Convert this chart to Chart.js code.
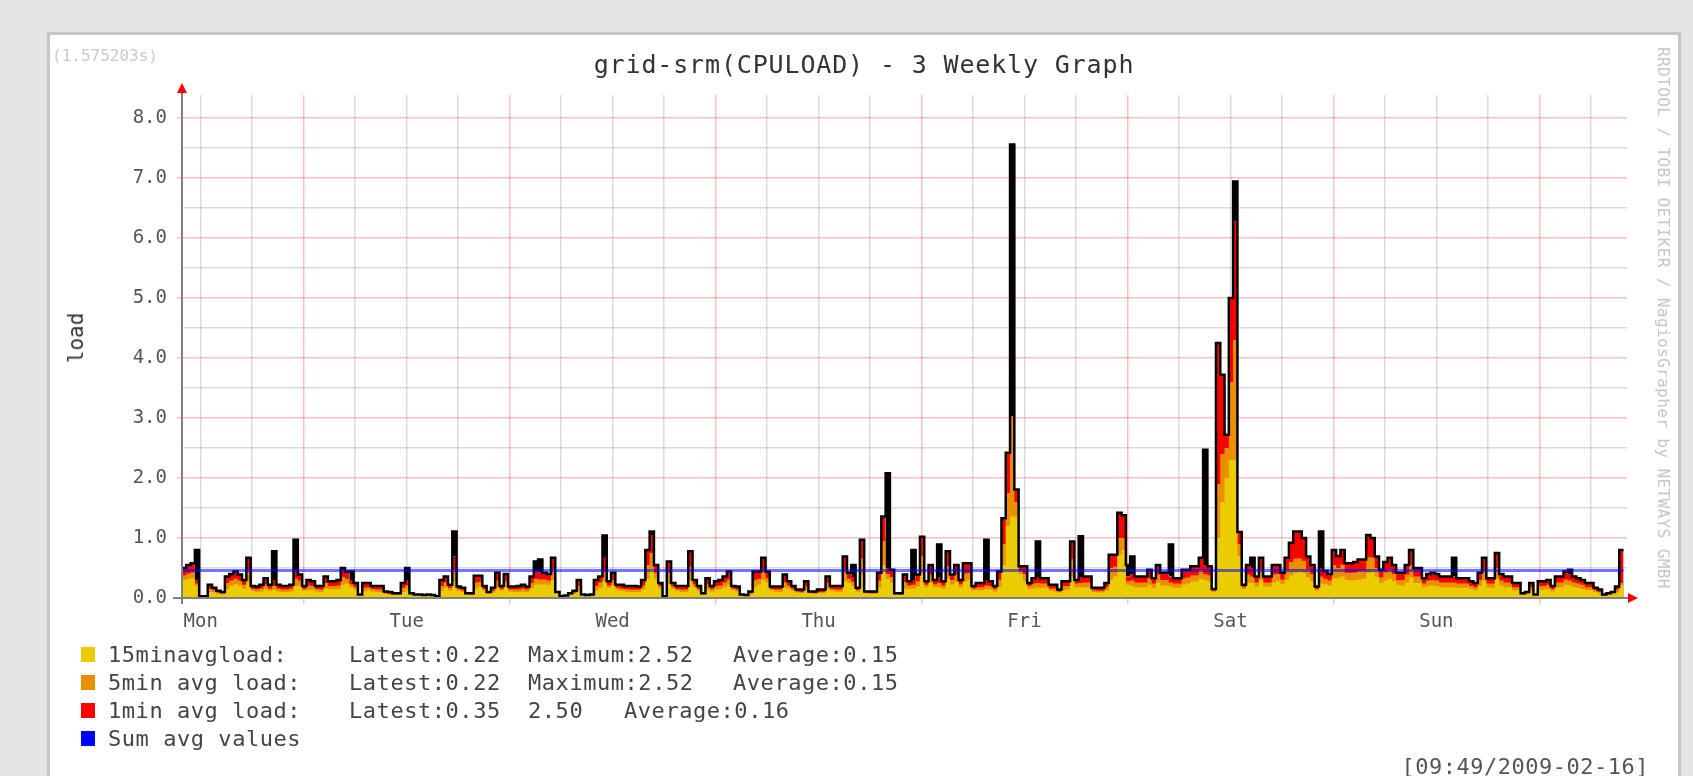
<!DOCTYPE html>
<html>
<head>
<meta charset="utf-8">
<title>grid-srm(CPULOAD) - 3 Weekly Graph</title>
<script src="https://cdn.jsdelivr.net/npm/chart.js@4.4.1/dist/chart.umd.min.js"></script>
<style>
    html, body {
        margin: 0;
        padding: 0;
        width: 1693px;
        height: 776px;
        overflow: hidden;
        background: #e4e4e4;
        font-family: 'DejaVu Sans Mono', monospace;
    }
    #panel {
        position: absolute;
        left: 47px;
        top: 32px;
        width: 1634px;
        height: 800px;
        box-sizing: border-box;
        background: #fff;
        border: 3px solid #c6c6c6;
    }
    #chartBox {
        position: absolute;
        left: 0;
        top: 0;
        width: 1693px;
        height: 776px;
    }
    .txt {
        position: absolute;
        white-space: pre;
    }
    .rot {
        transform: translate(-50%, -50%) rotate(-90deg);
    }
    .rotR {
        transform: translate(-50%, -50%) rotate(90deg);
    }
    .row {
        position: absolute;
        left: 0;
        width: 1000px;
        height: 28px;
        font-size: 22px;
        line-height: 28px;
        letter-spacing: 0.55px;
        color: #444;
    }
    .row span {
        position: absolute;
        top: 0;
        white-space: pre;
    }
    .row .sw {
        left: 81px;
        top: 6px;
        width: 14px;
        height: 15px;
    }
</style>
</head>
<body>
<div id="panel"></div>
<div id="chartBox"><canvas id="cpuChart" width="1693" height="776"></canvas></div>

<div class="txt" style="left:52px; top:47px; font-size:16px; line-height:18px; color:#cacaca;">(1.575203s)</div>
<div class="txt" id="title" style="left:864px; top:52px; font-size:25px; line-height:25px; letter-spacing:0.85px; color:#333; transform:translateX(-50%);">grid-srm(CPULOAD) - 3 Weekly Graph</div>
<div class="txt rot" style="left:76px; top:338px; font-size:21px; line-height:24px; color:#333;">load</div>
<div class="txt rotR" style="left:1663px; top:318px; font-size:16px; line-height:18px; letter-spacing:0.4px; color:#c4c4c4;">RRDTOOL / TOBI OETIKER / NagiosGrapher by NETWAYS GMBH</div>

<div id="legend"></div>
<div class="txt" style="right:44px; top:753px; font-size:22px; line-height:28px; letter-spacing:0.5px; color:#555;">[09:49/2009-02-16]</div>

<script>
// one value every 30 minutes, starting Mon 09:49
const slotHours = 0.5;

// 1min avg load (red area)
const load1 = [
    0.50, 0.55, 0.58, 0.30, 0.03, 0.03, 0.22, 0.17, 0.12, 0.10, 0.36, 0.40,
    0.44, 0.39, 0.30, 0.67, 0.20, 0.19, 0.22, 0.33, 0.22, 0.30, 0.22, 0.20,
    0.20, 0.22, 0.45, 0.39, 0.20, 0.30, 0.28, 0.20, 0.20, 0.36, 0.28, 0.28,
    0.30, 0.50, 0.44, 0.30, 0.25, 0.06, 0.25, 0.25, 0.20, 0.20, 0.20, 0.11,
    0.10, 0.08, 0.08, 0.25, 0.30, 0.08, 0.06, 0.06, 0.05, 0.06, 0.05, 0.03,
    0.30, 0.36, 0.22, 0.69, 0.19, 0.17, 0.08, 0.08, 0.37, 0.37, 0.20, 0.10,
    0.17, 0.42, 0.20, 0.40, 0.19, 0.19, 0.20, 0.22, 0.19, 0.36, 0.45, 0.42,
    0.42, 0.40, 0.67, 0.10, 0.03, 0.04, 0.08, 0.12, 0.30, 0.06, 0.05, 0.06,
    0.30, 0.36, 0.67, 0.28, 0.42, 0.22, 0.22, 0.20, 0.20, 0.20, 0.19, 0.30,
    0.80, 1.05, 0.55, 0.25, 0.03, 0.61, 0.25, 0.20, 0.20, 0.20, 0.78, 0.30,
    0.20, 0.08, 0.33, 0.20, 0.28, 0.30, 0.36, 0.44, 0.20, 0.19, 0.06, 0.05,
    0.11, 0.44, 0.44, 0.67, 0.44, 0.19, 0.19, 0.19, 0.39, 0.28, 0.20, 0.14,
    0.14, 0.28, 0.11, 0.11, 0.14, 0.14, 0.36, 0.20, 0.20, 0.20, 0.69, 0.42,
    0.35, 0.17, 0.97, 0.11, 0.11, 0.11, 0.42, 1.36, 0.50, 0.47, 0.08, 0.08,
    0.39, 0.28, 0.30, 0.39, 1.02, 0.28, 0.55, 0.30, 0.35, 0.28, 0.78, 0.39,
    0.55, 0.30, 0.58, 0.58, 0.20, 0.25, 0.25, 0.30, 0.28, 0.20, 0.44, 1.33,
    2.42, 3.03, 1.81, 0.53, 0.53, 0.25, 0.33, 0.35, 0.33, 0.33, 0.22, 0.22,
    0.14, 0.28, 0.28, 0.94, 0.30, 0.35, 0.36, 0.36, 0.17, 0.17, 0.17, 0.25,
    0.72, 0.72, 1.42, 1.38, 0.36, 0.40, 0.36, 0.36, 0.36, 0.47, 0.33, 0.55,
    0.42, 0.42, 0.36, 0.33, 0.33, 0.47, 0.47, 0.53, 0.53, 0.67, 0.55, 0.53,
    0.15, 4.25, 3.72, 2.72, 5.00, 6.28, 1.10, 0.22, 0.55, 0.50, 0.36, 0.67,
    0.36, 0.36, 0.55, 0.55, 0.42, 0.67, 0.92, 1.11, 1.11, 1.00, 0.69, 0.55,
    0.19, 0.50, 0.45, 0.40, 0.80, 0.70, 0.80, 0.58, 0.58, 0.60, 0.64, 0.64,
    1.05, 1.00, 0.69, 0.47, 0.60, 0.67, 0.55, 0.42, 0.42, 0.55, 0.80, 0.50,
    0.50, 0.33, 0.40, 0.42, 0.40, 0.36, 0.36, 0.36, 0.36, 0.33, 0.33, 0.33,
    0.28, 0.25, 0.42, 0.67, 0.33, 0.33, 0.75, 0.40, 0.36, 0.36, 0.25, 0.25,
    0.08, 0.10, 0.25, 0.06, 0.28, 0.28, 0.30, 0.20, 0.36, 0.36, 0.44, 0.40,
    0.36, 0.33, 0.30, 0.25, 0.25, 0.17, 0.14, 0.06, 0.08, 0.10, 0.19, 0.80
];

// black outline (1min max)
const load1Peak = [
    0.50, 0.55, 0.58, 0.80, 0.03, 0.03, 0.22, 0.17, 0.12, 0.10, 0.36, 0.40,
    0.44, 0.39, 0.30, 0.67, 0.20, 0.19, 0.22, 0.33, 0.22, 0.78, 0.22, 0.20,
    0.20, 0.22, 0.97, 0.39, 0.20, 0.30, 0.28, 0.20, 0.20, 0.36, 0.28, 0.28,
    0.30, 0.50, 0.44, 0.44, 0.25, 0.06, 0.25, 0.25, 0.20, 0.20, 0.20, 0.11,
    0.10, 0.08, 0.08, 0.25, 0.50, 0.08, 0.06, 0.06, 0.05, 0.06, 0.05, 0.03,
    0.30, 0.36, 0.22, 1.11, 0.19, 0.17, 0.08, 0.08, 0.37, 0.37, 0.20, 0.10,
    0.17, 0.42, 0.20, 0.40, 0.19, 0.19, 0.20, 0.22, 0.19, 0.36, 0.61, 0.64,
    0.42, 0.40, 0.67, 0.10, 0.03, 0.04, 0.08, 0.12, 0.30, 0.06, 0.05, 0.06,
    0.30, 0.36, 1.04, 0.28, 0.42, 0.22, 0.22, 0.20, 0.20, 0.20, 0.19, 0.30,
    0.80, 1.11, 0.55, 0.25, 0.03, 0.61, 0.25, 0.20, 0.20, 0.20, 0.78, 0.30,
    0.20, 0.08, 0.33, 0.20, 0.28, 0.30, 0.36, 0.44, 0.20, 0.19, 0.06, 0.05,
    0.11, 0.44, 0.44, 0.67, 0.44, 0.19, 0.19, 0.19, 0.39, 0.28, 0.20, 0.14,
    0.14, 0.28, 0.11, 0.11, 0.14, 0.14, 0.36, 0.20, 0.20, 0.20, 0.69, 0.42,
    0.55, 0.17, 0.97, 0.11, 0.11, 0.11, 0.42, 1.36, 2.08, 0.47, 0.08, 0.08,
    0.39, 0.28, 0.80, 0.39, 1.02, 0.28, 0.55, 0.30, 0.89, 0.28, 0.78, 0.39,
    0.55, 0.30, 0.58, 0.58, 0.20, 0.25, 0.25, 0.97, 0.28, 0.20, 0.44, 1.33,
    2.42, 7.56, 1.81, 0.53, 0.53, 0.25, 0.33, 0.94, 0.33, 0.33, 0.22, 0.22,
    0.14, 0.28, 0.28, 0.94, 0.30, 1.03, 0.36, 0.36, 0.17, 0.17, 0.17, 0.25,
    0.72, 0.72, 1.42, 1.38, 0.55, 0.69, 0.36, 0.36, 0.36, 0.47, 0.33, 0.55,
    0.42, 0.42, 0.89, 0.33, 0.33, 0.47, 0.47, 0.53, 0.53, 0.67, 2.47, 0.53,
    0.15, 4.25, 3.72, 2.72, 5.00, 6.94, 1.10, 0.22, 0.55, 0.67, 0.36, 0.67,
    0.36, 0.36, 0.55, 0.55, 0.42, 0.67, 0.92, 1.11, 1.11, 1.00, 0.69, 0.55,
    0.19, 1.11, 0.45, 0.40, 0.80, 0.70, 0.80, 0.58, 0.58, 0.60, 0.64, 0.64,
    1.05, 1.00, 0.69, 0.47, 0.60, 0.67, 0.55, 0.42, 0.42, 0.55, 0.80, 0.50,
    0.50, 0.33, 0.40, 0.42, 0.40, 0.36, 0.36, 0.36, 0.67, 0.33, 0.33, 0.33,
    0.28, 0.25, 0.42, 0.67, 0.33, 0.33, 0.75, 0.40, 0.36, 0.36, 0.25, 0.25,
    0.08, 0.10, 0.25, 0.06, 0.28, 0.28, 0.30, 0.20, 0.36, 0.36, 0.44, 0.47,
    0.36, 0.33, 0.30, 0.25, 0.25, 0.17, 0.14, 0.06, 0.08, 0.10, 0.19, 0.80
];

// 5min avg load (orange area)
const load5 = [
    0.38, 0.41, 0.43, 0.24, 0.03, 0.03, 0.15, 0.13, 0.09, 0.08, 0.25, 0.29,
    0.32, 0.29, 0.22, 0.46, 0.15, 0.14, 0.16, 0.23, 0.16, 0.21, 0.16, 0.14,
    0.14, 0.16, 0.32, 0.29, 0.15, 0.21, 0.20, 0.15, 0.14, 0.25, 0.20, 0.20,
    0.21, 0.35, 0.32, 0.23, 0.18, 0.05, 0.17, 0.18, 0.15, 0.14, 0.14, 0.08,
    0.07, 0.06, 0.06, 0.17, 0.21, 0.07, 0.05, 0.05, 0.04, 0.05, 0.04, 0.03,
    0.20, 0.26, 0.17, 0.47, 0.15, 0.13, 0.07, 0.06, 0.26, 0.27, 0.15, 0.08,
    0.12, 0.29, 0.15, 0.28, 0.14, 0.14, 0.14, 0.16, 0.14, 0.25, 0.32, 0.31,
    0.31, 0.29, 0.47, 0.09, 0.03, 0.04, 0.06, 0.09, 0.20, 0.05, 0.04, 0.05,
    0.20, 0.26, 0.46, 0.21, 0.30, 0.17, 0.16, 0.15, 0.14, 0.14, 0.14, 0.21,
    0.55, 0.75, 0.42, 0.20, 0.03, 0.42, 0.19, 0.15, 0.14, 0.14, 0.52, 0.23,
    0.15, 0.07, 0.23, 0.15, 0.20, 0.21, 0.26, 0.31, 0.16, 0.14, 0.05, 0.04,
    0.08, 0.30, 0.32, 0.47, 0.33, 0.15, 0.14, 0.14, 0.27, 0.21, 0.15, 0.11,
    0.10, 0.20, 0.09, 0.08, 0.10, 0.10, 0.25, 0.15, 0.14, 0.14, 0.47, 0.32,
    0.27, 0.13, 0.66, 0.09, 0.08, 0.08, 0.29, 0.95, 0.40, 0.35, 0.07, 0.06,
    0.27, 0.21, 0.22, 0.28, 0.70, 0.22, 0.39, 0.23, 0.25, 0.21, 0.53, 0.30,
    0.39, 0.23, 0.41, 0.42, 0.16, 0.18, 0.18, 0.21, 0.20, 0.15, 0.31, 0.90,
    1.75, 3.03, 1.60, 0.45, 0.40, 0.20, 0.24, 0.25, 0.24, 0.24, 0.16, 0.16,
    0.11, 0.20, 0.20, 0.65, 0.24, 0.25, 0.26, 0.26, 0.13, 0.12, 0.12, 0.18,
    0.50, 0.52, 1.00, 1.00, 0.28, 0.29, 0.26, 0.26, 0.26, 0.33, 0.24, 0.39,
    0.30, 0.30, 0.26, 0.24, 0.24, 0.33, 0.34, 0.38, 0.38, 0.47, 0.40, 0.38,
    0.12, 1.90, 2.40, 2.50, 3.60, 4.30, 0.90, 0.18, 0.39, 0.36, 0.26, 0.47,
    0.26, 0.26, 0.39, 0.40, 0.31, 0.47, 0.60, 0.66, 0.66, 0.62, 0.48, 0.40,
    0.15, 0.36, 0.32, 0.29, 0.55, 0.50, 0.56, 0.42, 0.42, 0.43, 0.46, 0.46,
    0.68, 0.68, 0.50, 0.34, 0.43, 0.48, 0.40, 0.30, 0.30, 0.39, 0.55, 0.36,
    0.36, 0.24, 0.29, 0.30, 0.29, 0.26, 0.26, 0.26, 0.26, 0.24, 0.24, 0.24,
    0.20, 0.18, 0.30, 0.46, 0.24, 0.24, 0.50, 0.29, 0.26, 0.26, 0.18, 0.18,
    0.06, 0.08, 0.18, 0.05, 0.20, 0.20, 0.22, 0.15, 0.26, 0.26, 0.31, 0.29,
    0.26, 0.24, 0.22, 0.18, 0.18, 0.13, 0.10, 0.05, 0.06, 0.08, 0.14, 0.25
];

// 15min avg load (yellow area)
const load15 = [
    0.30, 0.32, 0.33, 0.20, 0.03, 0.03, 0.10, 0.09, 0.07, 0.06, 0.15, 0.20,
    0.23, 0.21, 0.16, 0.28, 0.12, 0.10, 0.11, 0.15, 0.12, 0.14, 0.11, 0.10,
    0.10, 0.11, 0.20, 0.21, 0.12, 0.14, 0.14, 0.11, 0.10, 0.16, 0.15, 0.14,
    0.15, 0.22, 0.24, 0.18, 0.14, 0.05, 0.11, 0.13, 0.11, 0.10, 0.10, 0.07,
    0.06, 0.05, 0.05, 0.10, 0.14, 0.06, 0.05, 0.04, 0.04, 0.04, 0.04, 0.03,
    0.12, 0.17, 0.13, 0.28, 0.12, 0.10, 0.06, 0.05, 0.16, 0.19, 0.12, 0.07,
    0.09, 0.18, 0.12, 0.19, 0.11, 0.10, 0.10, 0.11, 0.10, 0.16, 0.22, 0.23,
    0.23, 0.22, 0.30, 0.08, 0.03, 0.04, 0.05, 0.07, 0.12, 0.05, 0.04, 0.04,
    0.12, 0.17, 0.28, 0.17, 0.21, 0.14, 0.12, 0.11, 0.10, 0.10, 0.10, 0.14,
    0.32, 0.48, 0.32, 0.16, 0.03, 0.24, 0.15, 0.12, 0.10, 0.10, 0.30, 0.18,
    0.12, 0.06, 0.14, 0.11, 0.14, 0.15, 0.18, 0.22, 0.13, 0.11, 0.05, 0.04,
    0.06, 0.18, 0.22, 0.30, 0.26, 0.13, 0.11, 0.10, 0.17, 0.16, 0.12, 0.09,
    0.08, 0.13, 0.08, 0.07, 0.08, 0.08, 0.16, 0.12, 0.11, 0.10, 0.28, 0.25,
    0.20, 0.11, 0.38, 0.08, 0.07, 0.07, 0.18, 0.55, 0.32, 0.26, 0.06, 0.05,
    0.16, 0.15, 0.16, 0.19, 0.40, 0.18, 0.26, 0.18, 0.18, 0.16, 0.32, 0.23,
    0.27, 0.18, 0.27, 0.30, 0.13, 0.13, 0.13, 0.15, 0.14, 0.11, 0.19, 0.55,
    1.20, 1.36, 1.36, 0.40, 0.28, 0.15, 0.16, 0.17, 0.17, 0.17, 0.12, 0.11,
    0.09, 0.13, 0.14, 0.36, 0.18, 0.18, 0.18, 0.18, 0.10, 0.09, 0.09, 0.12,
    0.30, 0.36, 0.72, 0.80, 0.22, 0.20, 0.18, 0.18, 0.18, 0.22, 0.17, 0.26,
    0.21, 0.21, 0.19, 0.17, 0.17, 0.22, 0.24, 0.27, 0.28, 0.32, 0.30, 0.28,
    0.10, 1.00, 1.60, 2.00, 2.30, 2.30, 0.70, 0.15, 0.26, 0.25, 0.19, 0.30,
    0.19, 0.19, 0.26, 0.28, 0.23, 0.30, 0.38, 0.42, 0.44, 0.42, 0.34, 0.28,
    0.12, 0.24, 0.23, 0.21, 0.33, 0.33, 0.36, 0.30, 0.29, 0.30, 0.31, 0.32,
    0.42, 0.44, 0.35, 0.25, 0.29, 0.32, 0.28, 0.22, 0.21, 0.26, 0.34, 0.25,
    0.25, 0.18, 0.20, 0.21, 0.20, 0.18, 0.18, 0.18, 0.18, 0.17, 0.17, 0.17,
    0.15, 0.13, 0.20, 0.29, 0.18, 0.17, 0.32, 0.21, 0.18, 0.18, 0.13, 0.13,
    0.05, 0.06, 0.12, 0.05, 0.14, 0.14, 0.15, 0.11, 0.18, 0.18, 0.22, 0.21,
    0.18, 0.17, 0.15, 0.13, 0.13, 0.10, 0.08, 0.04, 0.06, 0.07, 0.10, 0.22
];

// "Sum avg values" (blue line) = 0.15 + 0.15 + 0.16
const sumAvg = 0.46;

const dayNames = ['Mon', 'Tue', 'Wed', 'Thu', 'Fri', 'Sat', 'Sun'];
const yTicks = [0.0, 0.5, 1.0, 1.5, 2.0, 2.5, 3.0, 3.5, 4.0, 4.5, 5.0, 5.5, 6.0, 6.5, 7.0, 7.5, 8.0];

const legendRows = [
    { name: '15minavgload:', color: '#EACC00', cols: ['Latest:0.22', 'Maximum:2.52', 'Average:0.15'], pos: [349, 528, 733] },
    { name: '5min avg load:', color: '#EA8F00', cols: ['Latest:0.22', 'Maximum:2.52', 'Average:0.15'], pos: [349, 528, 733] },
    { name: '1min avg load:', color: '#FF0000', cols: ['Latest:0.35', '2.50', 'Average:0.16'], pos: [349, 528, 624] },
    { name: 'Sum avg values', color: '#0000FF', cols: [], pos: [] }
];

// x axis is hours since Mon 09:49, grid every 6h starting Mon 12:00
const firstNoonHour = 2 + 11 / 60;
const gridHours = [];
for (let j = 0; j < 28; j++) gridHours.push(firstNoonHour + 6 * j);
const gridStep = v => Math.round((v - firstNoonHour) / 6);

const FONT = "'DejaVu Sans Mono', monospace";
const majorGrid = 'rgba(255, 0, 0, 0.25)';
const minorGrid = 'rgba(0, 0, 0, 0.14)';

// legend (html)
const legendEl = document.getElementById('legend');
legendRows.forEach((r, i) => {
    const row = document.createElement('div');
    row.className = 'row';
    row.style.top = (641 + i * 28) + 'px';
    let html = '<span class="sw" style="background:' + r.color + '"></span>';
    html += '<span style="left:108px">' + r.name + '</span>';
    r.cols.forEach((c, k) => {
        html += '<span style="left:' + r.pos[k] + 'px">' + c + '</span>';
    });
    row.innerHTML = html;
    legendEl.appendChild(row);
});

const toPoints = arr => {
    const pts = arr.map((v, i) => ({ x: i * slotHours, y: v }));
    pts.push({ x: arr.length * slotHours, y: arr[arr.length - 1] });  // close last step
    return pts;
};

// red arrows + axis lines on top
const axisArrows = {
    id: 'axisArrows',
    afterDraw(chart) {
        const { ctx, chartArea } = chart;
        const x0 = chartArea.left, y0 = chartArea.bottom;
        ctx.save();
        ctx.strokeStyle = '#808080';
        ctx.lineWidth = 2;
        ctx.beginPath();
        ctx.moveTo(x0, y0 + 6);
        ctx.lineTo(x0, 90);
        ctx.moveTo(x0 - 9, y0);
        ctx.lineTo(chartArea.right + 3, y0);
        ctx.stroke();
        ctx.fillStyle = '#ff0000';
        ctx.beginPath();
        ctx.moveTo(x0, 83);
        ctx.lineTo(x0 - 5, 93);
        ctx.lineTo(x0 + 5, 93);
        ctx.closePath();
        ctx.fill();
        const xe = chartArea.right + 11;
        ctx.beginPath();
        ctx.moveTo(xe, y0);
        ctx.lineTo(xe - 10, y0 - 5);
        ctx.lineTo(xe - 10, y0 + 5);
        ctx.closePath();
        ctx.fill();
        ctx.restore();
    }
};

const data = {
    datasets: [
        {
            label: 'Sum avg values',
            data: [{ x: 0, y: sumAvg }, { x: load1.length * slotHours, y: sumAvg }],
            borderColor: 'rgba(0, 0, 255, 0.55)',
            borderWidth: 3,
            fill: false,
            order: 0
        },
        {
            label: '1min max',
            data: toPoints(load1Peak),
            borderColor: '#000000',
            borderWidth: 2.5,
            borderJoinStyle: 'miter',
            stepped: true,
            // solid black where the peak rises above the 1min area
            fill: { target: 4, above: '#000000', below: 'rgba(0,0,0,0)' },
            order: 1
        },
        {
            label: '15minavgload',
            data: toPoints(load15),
            backgroundColor: '#EACC00',
            borderWidth: 0,
            stepped: true,
            fill: 'origin',
            order: 2
        },
        {
            label: '5min avg load',
            data: toPoints(load5),
            backgroundColor: '#EA8F00',
            borderWidth: 0,
            stepped: true,
            fill: 'origin',
            order: 3
        },
        {
            label: '1min avg load',
            data: toPoints(load1),
            backgroundColor: '#FF0000',
            borderWidth: 0,
            stepped: true,
            fill: 'origin',
            order: 4
        }
    ]
};

const config = {
    type: 'line',
    data: data,
    options: {
        responsive: false,
        animation: false,
        devicePixelRatio: 1,
        layout: { padding: { left: 0, top: 95, right: 66, bottom: 0 } },
        elements: { point: { radius: 0 } },
        plugins: {
            legend: { display: false },
            tooltip: { enabled: false },
            title: { display: false }
        },
        scales: {
            x: {
                type: 'linear',
                min: 0,
                max: 168.4,
                afterBuildTicks: scale => { scale.ticks = gridHours.map(v => ({ value: v })); },
                afterFit: scale => { scale.height = 178; },
                ticks: {
                    autoSkip: false,
                    maxRotation: 0,
                    padding: 7,
                    color: '#555',
                    font: { family: FONT, size: 19 },
                    callback: v => {
                        const j = gridStep(v);
                        return j % 4 === 0 ? dayNames[j / 4] : '';
                    }
                },
                grid: {
                    color: ctx => (ctx.tick && gridStep(ctx.tick.value) % 4 === 2) ? majorGrid : minorGrid,
                    tickColor: ctx => (ctx.tick && gridStep(ctx.tick.value) % 4 === 2) ? majorGrid : 'rgba(0,0,0,0)',
                    lineWidth: 1.5,
                    tickLength: 6
                },
                border: { display: false }
            },
            y: {
                type: 'linear',
                min: 0,
                max: 8.383,
                afterBuildTicks: scale => { scale.ticks = yTicks.map(v => ({ value: v })); },
                afterFit: scale => { scale.width = 182; },
                ticks: {
                    padding: 10,
                    color: '#555',
                    font: { family: FONT, size: 19 },
                    callback: v => Number.isInteger(v) ? v.toFixed(1) : ''
                },
                grid: {
                    color: ctx => (ctx.tick && Number.isInteger(ctx.tick.value)) ? majorGrid : minorGrid,
                    tickColor: ctx => (ctx.tick && Number.isInteger(ctx.tick.value)) ? majorGrid : 'rgba(0,0,0,0)',
                    lineWidth: 1.5,
                    tickLength: 5
                },
                border: { display: false }
            }
        }
    },
    plugins: [axisArrows]
};

const ctx = document.getElementById('cpuChart').getContext('2d');
window.cpuChart = new Chart(ctx, config);
</script>
</body>
</html>
